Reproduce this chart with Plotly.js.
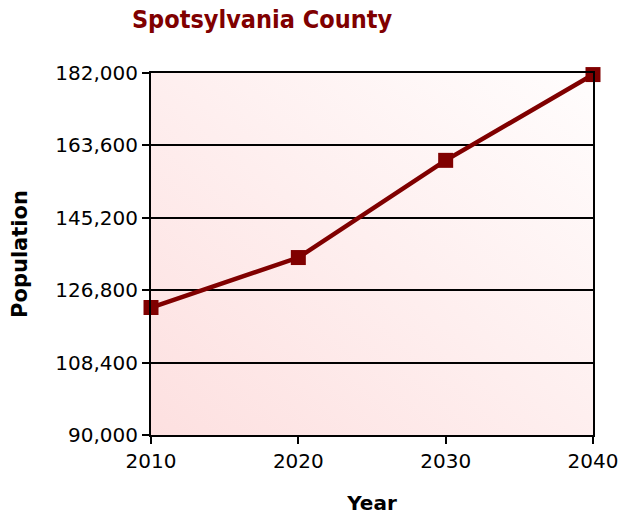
<!DOCTYPE html>
<html>
<head>
<meta charset="utf-8">
<script src="https://cdn.plot.ly/plotly-3.0.1.min.js"></script>
<style>html,body{margin:0;padding:0;background:#fff;}#chart{width:619px;height:517px;}</style>
</head>
<body>
<div id="chart"></div>
<script>
const years = [2010, 2020, 2030, 2040];
const population = [122397, 135100, 159800, 181600];
const yTicks = [90000, 108400, 126800, 145200, 163600, 182000];
const yTickLabels = ['90,000', '108,400', '126,800', '145,200', '163,600', '182,000'];
const xTicks = [2010, 2020, 2030, 2040];

const grad = 'data:image/svg+xml;utf8,' + encodeURIComponent(
  '<svg xmlns="http://www.w3.org/2000/svg" width="100" height="100" preserveAspectRatio="none">' +
  '<defs><linearGradient id="g" x1="0" y1="1" x2="1" y2="0">' +
  '<stop offset="0" stop-color="#fde0e0"/><stop offset="1" stop-color="#fffdfd"/>' +
  '</linearGradient></defs><rect width="100" height="100" fill="url(#g)"/></svg>');

const trace = {
  x: years, y: population, type: 'scatter', mode: 'lines+markers',
  line: {color: '#800000', width: 4.5},
  marker: {symbol: 'square', size: 15, color: '#800000'},
  cliponaxis: false, hoverinfo: 'skip'
};

const layout = {
  width: 619, height: 517,
  margin: {l: 151, r: 26, t: 73, b: 82},
  paper_bgcolor: '#ffffff', plot_bgcolor: 'rgba(0,0,0,0)',
  font: {family: 'DejaVu Sans, Verdana, sans-serif', color: '#000'},
  title: {text: '<b>Spotsylvania County</b>', font: {size: 25, color: '#800000', family: 'DejaVu Sans Condensed, DejaVu Sans, sans-serif'},
    x: 262/619, xanchor: 'center', xref: 'container', y: 1 - 19/517, yanchor: 'middle', yref: 'container'},
  xaxis: {range: [2010, 2040], tickvals: xTicks, ticktext: xTicks.map(String),
    showgrid: false, zeroline: false, showline: true, linecolor: '#000', linewidth: 2, mirror: true,
    ticks: 'outside', ticklen: 7, tickwidth: 2, tickcolor: '#000',
    tickfont: {size: 20}, title: {text: '<b>Year</b>', font: {size: 20}, standoff: 24}},
  yaxis: {range: [90000, 182000], tickvals: yTicks, ticktext: yTickLabels,
    showgrid: true, gridcolor: '#000', gridwidth: 2, zeroline: false,
    showline: true, linecolor: '#000', linewidth: 2, mirror: true,
    ticks: 'outside', ticklen: 7, tickwidth: 2, tickcolor: '#000',
    tickfont: {size: 20}, title: {text: '<b>Population</b>', font: {size: 21}, standoff: 22}},
  images: [{source: grad, xref: 'paper', yref: 'paper', x: 0, y: 1, sizex: 1, sizey: 1,
    sizing: 'stretch', layer: 'below', xanchor: 'left', yanchor: 'top'}],
  showlegend: false
};

Plotly.newPlot('chart', [trace], layout, {displayModeBar: false, staticPlot: true});
</script>
</body>
</html>
